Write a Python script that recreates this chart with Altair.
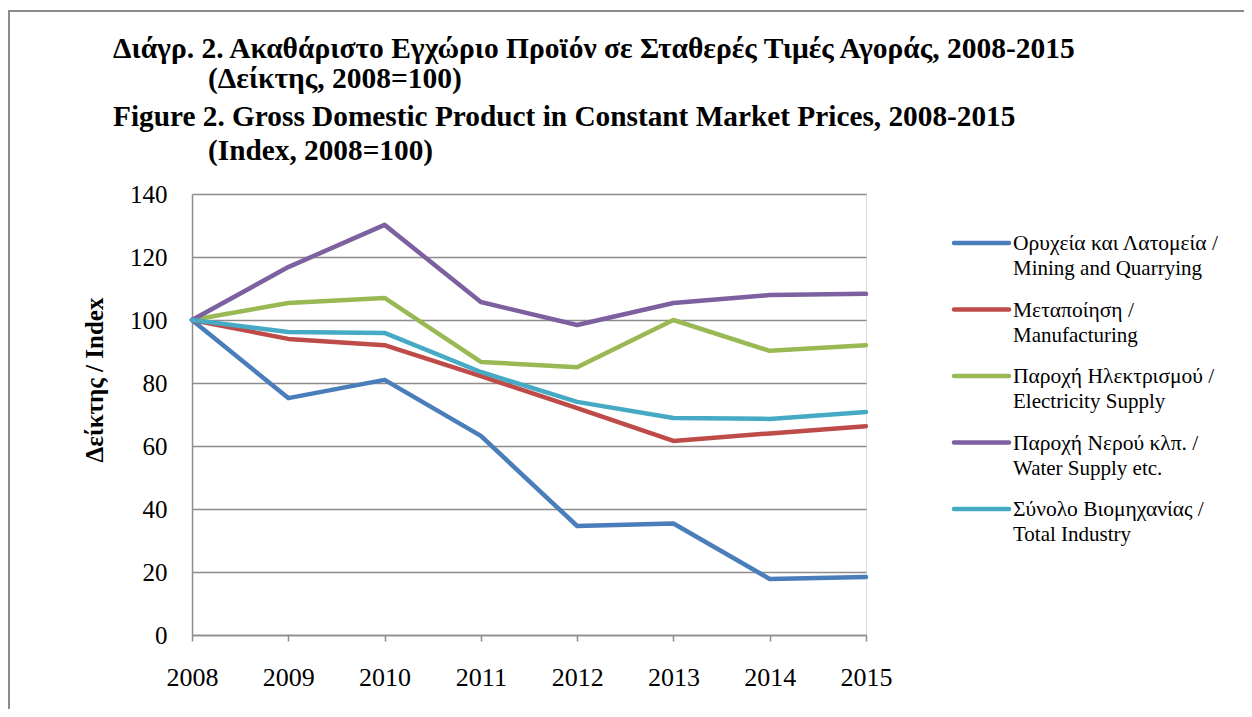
import altair as alt
import pandas as pd

years = [2008, 2009, 2010, 2011, 2012, 2013, 2014, 2015]
mining = [100, 75.2, 81.0, 63.2, 34.6, 35.4, 17.8, 18.4]
manufacturing = [100, 94.0, 92.0, 82.2, 72.0, 61.6, 64.0, 66.3]
electricity = [100, 105.4, 107.0, 86.7, 85.0, 100.0, 90.2, 92.0]
water = [100, 116.8, 130.2, 105.7, 98.4, 105.4, 107.9, 108.3]
total = [100, 96.2, 95.9, 83.5, 74.0, 68.9, 68.6, 70.8]

series_gr = ["Ορυχεία και Λατομεία /", "Μεταποίηση /", "Παροχή Ηλεκτρισμού /",
             "Παροχή Νερού κλπ. /", "Σύνολο Βιομηχανίας /"]
series_en = ["Mining and Quarrying", "Manufacturing", "Electricity Supply",
             "Water Supply etc.", "Total Industry"]
colors = ["#4A7EBB", "#BE4B48", "#98B954", "#7D60A0", "#46AAC5"]

title_lines = [
    "Διάγρ. 2. Ακαθάριστο Εγχώριο Προϊόν σε Σταθερές Τιμές Αγοράς, 2008-2015",
    "(Δείκτης, 2008=100)",
    "Figure 2. Gross Domestic Product in Constant Market Prices, 2008-2015",
    "(Index, 2008=100)",
]
y_title = "Δείκτης / Index"

all_vals = [mining, manufacturing, electricity, water, total]
rows = []
for i, vals in enumerate(all_vals):
    for yr, v in zip(years, vals):
        rows.append({"year": str(yr), "value": v, "series": series_en[i], "order": i})
df = pd.DataFrame(rows)

leg = pd.DataFrame({"idx": list(range(5)), "gr": series_gr, "en": series_en})

FONT = "Liberation Serif, DejaVu Serif, serif"
W, H = 674, 441

color_scale = alt.Scale(domain=series_en, range=colors)

lines = alt.Chart(df).mark_line(strokeWidth=4.5, strokeCap="round", strokeJoin="round").encode(
    x=alt.X("year:O", scale=alt.Scale(type="point", padding=0),
            axis=alt.Axis(title=None, labelAngle=0, labelFont=FONT, labelFontSize=26,
                          labelColor="black", domainColor="#8c8c8c", domainWidth=1.5,
                          tickColor="#8c8c8c", tickWidth=1.5, tickSize=6,
                          labelBaseline="alphabetic", labelPadding=44, grid=False)),
    y=alt.Y("value:Q", scale=alt.Scale(domain=[0, 140], nice=False, zero=True),
            axis=alt.Axis(title=None, values=[0, 20, 40, 60, 80, 100, 120, 140],
                          labelFont=FONT, labelFontSize=25, labelColor="black",
                          ticks=False, tickSize=0, labelPadding=25,
                          domainColor="#8c8c8c", domainWidth=1.5,
                          gridColor="#8c8c8c", gridWidth=1.5)),
    color=alt.Color("series:N", scale=color_scale, legend=None),
    order=alt.Order("order:Q"),
    detail="series:N",
)

leg_y = alt.Y("idx:Q", scale=alt.Scale(domain=[0, 4], range=[49, 315]), axis=None)

leg_rule = alt.Chart(leg).mark_rule(strokeWidth=4.5, strokeCap="round").encode(
    x=alt.value(762), x2=alt.value(817), y=leg_y,
    color=alt.Color("en:N", scale=color_scale, legend=None),
)
leg_t1 = alt.Chart(leg).mark_text(align="left", baseline="alphabetic", font=FONT,
                                  fontSize=21.5, color="black", dy=7).encode(
    x=alt.value(821), y=leg_y, text="gr:N")
leg_t2 = alt.Chart(leg).mark_text(align="left", baseline="alphabetic", font=FONT,
                                  fontSize=21, color="black", dy=32).encode(
    x=alt.value(821), y=leg_y, text="en:N")

one = pd.DataFrame({"k": [0]})
title_pos = [(-79, -136), (16, -106), (-79, -68), (16, -34)]
title_sizes = [29.5, 29.5, 29.3, 29.3]
title_layers = []
for t, (tx, ty), fs in zip(title_lines, title_pos, title_sizes):
    title_layers.append(
        alt.Chart(one).mark_text(text=t, align="left", baseline="alphabetic", font=FONT,
                                 fontSize=fs, fontWeight="bold", color="black").encode(
            x=alt.value(tx), y=alt.value(ty))
    )

ytitle = alt.Chart(one).mark_text(text=y_title, align="center", baseline="alphabetic",
                                  angle=270, font=FONT, fontSize=25, fontWeight="bold",
                                  color="black").encode(x=alt.value(-89), y=alt.value(186))

border = alt.Chart(one).mark_rect(fill=None, stroke="#8c8c8c", strokeWidth=2).encode(
    x=alt.value(-183), x2=alt.value(1300), y=alt.value(-183), y2=alt.value(800))

chart = alt.layer(border, lines, leg_rule, leg_t1, leg_t2, ytitle, *title_layers).resolve_scale(
    y="independent"
).properties(
    width=W, height=H,
    autosize=alt.AutoSizeParams(type="none"),
    padding={"left": 184, "top": 186, "right": 378, "bottom": 74},
).configure_view(stroke=None).configure(background="white")

chart.save("out.html", embed_options={"renderer": "svg", "actions": False})
